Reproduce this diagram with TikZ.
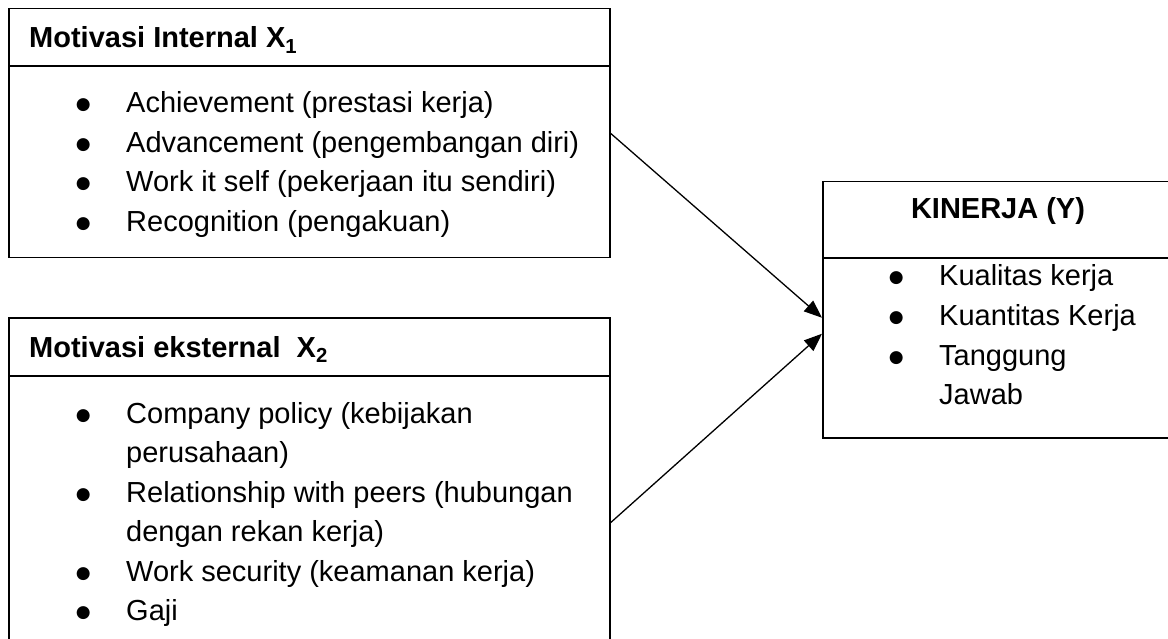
\documentclass[tikz,border=0pt]{standalone}
\usepackage{fontspec}
\setmainfont{Liberation Sans}
\newfontfamily\dotfont{DejaVu Sans}
\usetikzlibrary{arrows.meta, positioning}

\newcommand{\bul}{\makebox[0pt][r]{\makebox[0pt][c]{\raisebox{3pt}{\dotfont\fontsize{17}{18}\selectfont ●}}\hspace{43pt}}}

\tikzset{
  box/.style={draw, line width=1.5pt, inner sep=0pt},
  sep/.style={line width=1.5pt},
  txt/.style={anchor=base west, inner sep=0pt, font=\fontsize{29}{35}\selectfont},
  hdr/.style={txt, font=\fontsize{29}{35}\selectfont\bfseries},
  link/.style={-{Triangle[length=18pt,width=14pt]}, line width=1.3pt},
}

\begin{document}
\begin{tikzpicture}[x=1pt, y=-1pt]
  \clip (0,0) rectangle (1168,639);

  % Draw box 'Motivasi Internal'
  \node[box, minimum width=601pt, minimum height=249pt, anchor=north west] (int) at (8,8) {};
  \draw[sep] ([yshift=-58pt]int.north west) -- ([yshift=-58pt]int.north east);
  \node[hdr] (int-head) at (29,48) {Motivasi Internal X\textsubscript{1}};
  \foreach \t [count=\i] in {Achievement (prestasi kerja), Advancement (pengembangan diri),
      Work it self (pekerjaan itu sendiri), Recognition (pengakuan)}
    \node[txt] (int-\i) at (126, 73.5+39.5*\i) {\bul\t};

  % Draw box 'Motivasi eksternal'
  \node[box, minimum width=601pt, minimum height=410pt, anchor=north west] (ext) at (8,317) {};
  \draw[sep] ([yshift=-59pt]ext.north west) -- ([yshift=-59pt]ext.north east);
  \node[hdr] (ext-head) at (29,357) {Motivasi eksternal\ \ X\textsubscript{2}};
  \foreach \b/\t [count=\i] in {\bul/Company policy (kebijakan, {}/perusahaan),
      \bul/Relationship with peers (hubungan, {}/dengan rekan kerja),
      \bul/Work security (keamanan kerja), \bul/Gaji}
    \node[txt] (ext-\i) at (126, 383.5+39.5*\i) {\b\t};

  % Draw box 'KINERJA'
  \node[box, minimum width=352pt, minimum height=256pt, anchor=north west] (kin) at (822,181) {};
  \draw[sep] ([yshift=-77pt]kin.north west) -- ([yshift=-77pt]kin.north east);
  \node[hdr, anchor=base] (kin-head) at (998,219) {KINERJA (Y)};
  \foreach \b/\t [count=\i] in {\bul/Kualitas kerja, \bul/Kuantitas Kerja, \bul/Tanggung, {}/Jawab}
    \node[txt] (kin-\i) at (939, 246.5+39.5*\i) {\b\t};

  % Draw arrows into 'KINERJA'
  \coordinate (kin-in1) at ([yshift=-8pt]kin.west);
  \coordinate (kin-in2) at ([yshift=-24pt]kin.west);
  \draw[link] (int.east) -- (kin-in1);
  \draw[link] (ext.east) -- (kin-in2);
\end{tikzpicture}
\end{document}
